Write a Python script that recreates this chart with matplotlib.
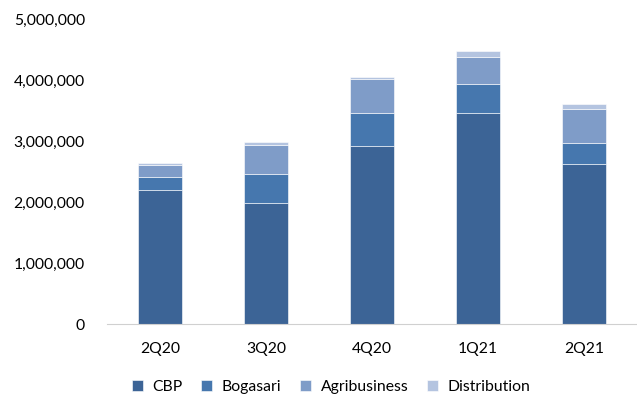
import matplotlib.pyplot as plt
from matplotlib.ticker import FuncFormatter
import numpy as np

quarters = ['2Q20', '3Q20', '4Q20', '1Q21', '2Q21']
cbp = [2195000, 1983000, 2920000, 3466000, 2620000]
bogasari = [212000, 474000, 545000, 465000, 344000]
agribusiness = [207000, 484000, 552000, 452000, 567000]
distribution = [23000, 49000, 33000, 93000, 77000]

series = [('CBP', cbp, '#3c6496'),
          ('Bogasari', bogasari, '#4677ae'),
          ('Agribusiness', agribusiness, '#7f9cc8'),
          ('Distribution', distribution, '#b4c4e0')]

plt.rcParams['font.family'] = ['Lato', 'DejaVu Sans']

fig = plt.figure(figsize=(6.37, 3.96), dpi=100)
ax = fig.add_axes([0.168, 0.181, 0.832, 0.771])

x = np.arange(len(quarters))
bottom = np.zeros(len(quarters))
for name, vals, color in series:
    ax.bar(x, vals, width=0.41, bottom=bottom, color=color, label=name,
           edgecolor='white', linewidth=0.4)
    bottom += np.array(vals)

ax.set_xlim(-0.5, len(quarters) - 0.5)
ax.set_ylim(0, 5000000)
ax.set_yticks(np.arange(0, 5000001, 1000000))
ax.yaxis.set_major_formatter(FuncFormatter(lambda v, p: f'{int(v):,}'))
ax.set_xticks(x)
ax.set_xticklabels(quarters)

for s in ['top', 'right', 'left']:
    ax.spines[s].set_visible(False)
ax.spines['bottom'].set_color('#d0d0d0')
ax.tick_params(axis='both', length=0, labelsize=11.3, colors='#000000')
ax.tick_params(axis='x', pad=13)
ax.tick_params(axis='y', pad=16)

ax.legend(loc='upper center', bbox_to_anchor=(0.423, -0.135), ncol=4, frameon=False,
          fontsize=11.3, handlelength=0.7, handleheight=0.7, handletextpad=0.6,
          columnspacing=1.2)

fig.savefig('out.png', dpi=100)
